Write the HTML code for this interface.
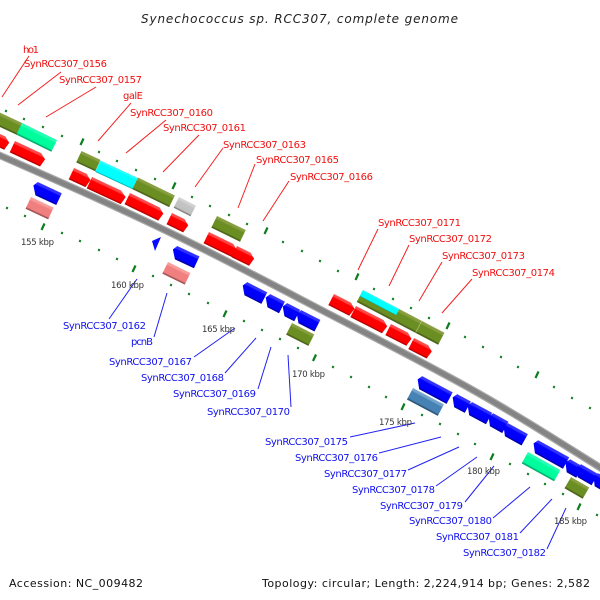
<!DOCTYPE html>
<html><head><meta charset="utf-8"><style>
html,body{margin:0;padding:0;background:#fff}
svg{display:block}
text{font-family:"DejaVu Sans",sans-serif}
.r{fill:#f01010;font-size:10px}
.b{fill:#1010f0;font-size:10px}
.k{fill:#333;font-size:8.5px}
</style></head><body>
<svg width="600" height="600" viewBox="0 0 600 600" xmlns="http://www.w3.org/2000/svg">
<defs>
<linearGradient id="gr" x1="0" y1="0" x2="0" y2="1"><stop offset="0" stop-color="#ff5050"/><stop offset=".2" stop-color="#ff4040"/><stop offset=".27" stop-color="#ff0000"/><stop offset=".86" stop-color="#fa0000"/><stop offset=".92" stop-color="#c00000"/><stop offset="1" stop-color="#b00000"/></linearGradient>
<linearGradient id="gb" x1="0" y1="0" x2="0" y2="1"><stop offset="0" stop-color="#3838ff"/><stop offset=".2" stop-color="#2c2cff"/><stop offset=".27" stop-color="#0000ff"/><stop offset=".86" stop-color="#0000f5"/><stop offset=".92" stop-color="#0000b4"/><stop offset="1" stop-color="#0000a8"/></linearGradient>
<linearGradient id="go" x1="0" y1="0" x2="0" y2="1"><stop offset="0" stop-color="#8aa244"/><stop offset=".2" stop-color="#849c3c"/><stop offset=".27" stop-color="#6b8e23"/><stop offset=".84" stop-color="#6b8e23"/><stop offset=".9" stop-color="#4f681a"/><stop offset="1" stop-color="#4a6218"/></linearGradient>
<linearGradient id="gc" x1="0" y1="0" x2="0" y2="1"><stop offset="0" stop-color="#30ffff"/><stop offset=".15" stop-color="#20ffff"/><stop offset=".22" stop-color="#00ffff"/><stop offset=".9" stop-color="#00ffff"/><stop offset=".94" stop-color="#00c0c0"/><stop offset="1" stop-color="#00b4b4"/></linearGradient>
<linearGradient id="gg" x1="0" y1="0" x2="0" y2="1"><stop offset="0" stop-color="#28ffb4"/><stop offset=".2" stop-color="#22ffb0"/><stop offset=".27" stop-color="#00ff9f"/><stop offset=".84" stop-color="#00fa9a"/><stop offset=".9" stop-color="#00b872"/><stop offset="1" stop-color="#00ac6c"/></linearGradient>
<linearGradient id="gy" x1="0" y1="0" x2="0" y2="1"><stop offset="0" stop-color="#d4d4d4"/><stop offset=".2" stop-color="#d0d0d0"/><stop offset=".27" stop-color="#c4c4c4"/><stop offset=".84" stop-color="#c0c0c0"/><stop offset=".9" stop-color="#8c8c8c"/><stop offset="1" stop-color="#848484"/></linearGradient>
<linearGradient id="gp" x1="0" y1="0" x2="0" y2="1"><stop offset="0" stop-color="#f8a0a0"/><stop offset=".2" stop-color="#f89898"/><stop offset=".27" stop-color="#f08080"/><stop offset=".84" stop-color="#f08080"/><stop offset=".9" stop-color="#a85858"/><stop offset="1" stop-color="#a05454"/></linearGradient>
<linearGradient id="gs" x1="0" y1="0" x2="0" y2="1"><stop offset="0" stop-color="#78a8ce"/><stop offset=".2" stop-color="#70a0ca"/><stop offset=".27" stop-color="#4682b4"/><stop offset=".84" stop-color="#4682b4"/><stop offset=".9" stop-color="#30597c"/><stop offset="1" stop-color="#2c5474"/></linearGradient>
</defs>

<text x="141" y="23" font-size="12" font-style="italic" fill="#222" textLength="317" lengthAdjust="spacing">Synechococcus sp. RCC307, complete genome</text>

<!-- backbone -->
<path transform="translate(0,.5)" d="M-10,150.6 L0,155 C60,181.4 120,207.6 180,237 C230,261.5 280,288 330,314 C377,338.3 423,361.7 470,388 C513,412 557,440 600,467 L612,475" fill="none" stroke="#a8a8a8" stroke-width="7.4"/>
<path transform="translate(0,.5)" d="M-10,150.6 L0,155 C60,181.4 120,207.6 180,237 C230,261.5 280,288 330,314 C377,338.3 423,361.7 470,388 C513,412 557,440 600,467 L612,475" fill="none" stroke="#848484" stroke-width="5"/>

<!-- small ticks -->
<path fill="none" stroke="#0a7d1e" stroke-width="2" d="
M5.5,112l1,-2M23.5,120l1,-2M42.5,128l1,-2M61.5,137l1,-2M98.5,153l1,-2M116.5,162l1,-2M135.5,171l1,-2M154.5,180l1,-2M191.5,198l1,-2M209.5,207l1,-2M228.5,216l1,-2M246.5,225l1,-2M282.5,243l1,-2M301.5,252l1,-2M319.5,262l1,-2M337.5,272l1,-2M373.5,290l1,-2M392.5,300l1,-2M410.5,309l1,-2M428.5,319l1,-2M464.5,338l1,-2M482.5,348l1,-2M500.5,358l1,-2M517.5,368l1,-2M553.5,388l1,-2M571.5,399l1,-2M589.5,409l1,-2
M6.5,209l1,-2M24.5,217l1,-2M61.5,234l1,-2M79.5,242l1,-2M98.5,251l1,-2M116.5,260l1,-2M152.5,277l1,-2M170.5,286l1,-2M188.5,295l1,-2M207.5,304l1,-2M243.5,322l1,-2M261.5,331l1,-2M279.5,340l1,-2M297.5,349l1,-2M332.5,368l1,-2M350.5,378l1,-2M368.5,388l1,-2M385.5,398l1,-2M421.5,416l1,-2M439.5,425l1,-2M457.5,435l1,-2M474.5,445l1,-2M509.5,465l1,-2M527.5,475l1,-2M544.5,485l1,-2M562.5,495l1,-2M596.5,516l1,-2"/>
<!-- large ticks -->
<path fill="none" stroke="#0a7d1e" stroke-width="2.2" d="
M80.5,145l3,-6.5M172.5,189l3,-6.5M264.5,234l3,-6.5M355.5,280l3,-6.5M446.5,329l3,-6.5M535.5,378l3,-6.5
M41.5,230l3,-6.5M132.5,272l3,-6.5M223.5,317l3,-6.5M313,361l3,-6.5M401.5,410l3,-6.5M490.5,460l3,-6.5M577.5,510l3,-6.5"/>

<!-- upper strand features -->
<g transform="translate(-10,108) rotate(25)"><rect width="36" height="13" fill="url(#go)"/></g>
<g transform="translate(22,123) rotate(26)"><rect width="39" height="13" fill="url(#gg)"/></g>
<g transform="translate(81.5,151) rotate(25)"><rect width="21" height="12.5" fill="url(#go)"/></g>
<g transform="translate(100.5,160.5) rotate(25)"><rect width="41" height="12.5" fill="url(#gc)"/></g>
<g transform="translate(138,177.5) rotate(26)"><rect width="41" height="13" fill="url(#go)"/></g>
<g transform="translate(179,197) rotate(27)"><rect width="19" height="12" fill="url(#gy)"/></g>
<g transform="translate(217,216) rotate(26)"><rect width="32" height="13" fill="url(#go)"/></g>
<g transform="translate(363,290) rotate(27.7)"><rect width="92" height="13.5" fill="url(#go)"/><rect y="0" width="41" height="7" fill="url(#gc)"/><rect x="66" y="0" width=".8" height="13" fill="#a8c070"/></g>

<!-- red genes -->
<g fill="url(#gr)">
<g transform="translate(0,134) rotate(25)"><polygon points="-12,0 6,0 12,4 10.5,12.5 -12,12.5"/></g>
<g transform="translate(15,141) rotate(25)"><polygon points="0,0 29,0 35,4 33.5,12.5 0,12.5"/></g>
<g transform="translate(74,168) rotate(25)"><polygon points="0,0 14,0 20,4 18.5,12.5 0,12.5"/></g>
<g transform="translate(92,177) rotate(25)"><polygon points="0,0 32,0 39,4 37.5,12.5 0,12.5"/></g>
<g transform="translate(130,193) rotate(26)"><polygon points="0,0 33,0 39,4 37.5,12.5 0,12.5"/></g>
<g transform="translate(172,213) rotate(26)"><polygon points="0,0 14,0 20,4 18.5,12.5 0,12.5"/></g>
<g transform="translate(209,232) rotate(26)"><polygon points="0,0 27,0 33,4 31.5,12.5 0,12.5"/></g>
<g transform="translate(237,246) rotate(26)"><polygon points="0,0 15,0 21,4 19.5,12.5 0,12.5"/></g>
<g transform="translate(334,294) rotate(27)"><polygon points="0,0 19,0 25,4 23.5,12.5 0,12.5"/></g>
<g transform="translate(356,306) rotate(27)"><polygon points="0,0 31,0 37,4 35.5,12.5 0,12.5"/></g>
<g transform="translate(391,324) rotate(27)"><polygon points="0,0 19,0 25,4 23.5,12.5 0,12.5"/></g>
<g transform="translate(414,338) rotate(27)"><polygon points="0,0 16,0 22,4 20.5,12.5 0,12.5"/></g>
</g>

<!-- lower strand features -->
<g transform="translate(31,197) rotate(25)"><rect width="25" height="13" fill="url(#gp)"/></g>
<g transform="translate(168,262) rotate(26)"><rect width="25" height="13" fill="url(#gp)"/></g>
<g transform="translate(292,323) rotate(27)"><rect width="25" height="13" fill="url(#go)"/></g>
<g transform="translate(413,388) rotate(28)"><rect width="35" height="13" fill="url(#gs)"/></g>
<g transform="translate(528,452) rotate(29)"><rect width="37" height="13" fill="url(#gg)"/></g>
<g transform="translate(571,477) rotate(30)"><rect width="21" height="13" fill="url(#go)"/></g>

<!-- blue genes -->
<polygon points="161,237 152,241 155,251" fill="#0a0aff"/>
<g fill="url(#gb)">
<g transform="translate(35.5,181) rotate(25)"><polygon points="2.5,0 29,0 29,13 6,13 0,5"/></g>
<g transform="translate(175,245) rotate(25)"><polygon points="2.5,0 27,0 27,13 6,13 0,5"/></g>
<g transform="translate(245,281) rotate(27)"><polygon points="2.5,0 25,0 25,13 6,13 0,5"/></g>
<g transform="translate(268,293) rotate(27)"><polygon points="2.5,0 19,0 19,13 6,13 0,5"/></g>
<g transform="translate(285,302) rotate(27)"><polygon points="2.5,0 17,0 17,13 6,13 0,5"/></g>
<g transform="translate(299,309) rotate(27)"><polygon points="2.5,0 24,0 24,13 6,13 0,5"/></g>
<g transform="translate(420,375) rotate(28)"><polygon points="2.5,0 37,0 37,13 6,13 0,5"/></g>
<g transform="translate(455,393) rotate(28)"><polygon points="2.5,0 18,0 18,13 6,13 0,5"/></g>
<g transform="translate(470,401) rotate(28)"><polygon points="2.5,0 25,0 25,13 6,13 0,5"/></g>
<g transform="translate(491,412) rotate(29)"><polygon points="2.5,0 20,0 20,13 6,13 0,5"/></g>
<g transform="translate(506,422) rotate(29)"><polygon points="2.5,0 25,0 25,13 6,13 0,5"/></g>
<g transform="translate(536,439) rotate(29)"><polygon points="2.5,0 38,0 38,13 6,13 0,5"/></g>
<g transform="translate(568,458) rotate(30)"><polygon points="2.5,0 17,0 17,13 6,13 0,5"/></g>
<g transform="translate(579,463) rotate(30)"><polygon points="2.5,0 22,0 22,13 6,13 0,5"/></g>
<g transform="translate(596,472) rotate(30)"><polygon points="2.5,0 22,0 22,13 6,13 0,5"/></g>
</g>

<!-- red connectors -->
<g stroke="#f42020" stroke-width="1" fill="none">
<line x1="29" y1="56" x2="2" y2="97"/>
<line x1="61" y1="72" x2="18" y2="105"/>
<line x1="96" y1="87" x2="46" y2="117"/>
<line x1="131" y1="103" x2="98" y2="141"/>
<line x1="166" y1="120" x2="126" y2="153"/>
<line x1="199" y1="135" x2="163" y2="172"/>
<line x1="223" y1="148" x2="195" y2="187"/>
<line x1="255" y1="164" x2="238" y2="208"/>
<line x1="289" y1="181" x2="263" y2="221"/>
<line x1="378" y1="229" x2="358" y2="270"/>
<line x1="409" y1="245" x2="389" y2="286"/>
<line x1="442" y1="262" x2="419" y2="301"/>
<line x1="472" y1="279" x2="442" y2="313"/>
</g>

<!-- blue connectors -->
<g stroke="#2020f4" stroke-width="1" fill="none">
<line x1="137" y1="279" x2="109" y2="319"/>
<line x1="167" y1="293" x2="154" y2="337"/>
<line x1="235" y1="328" x2="194" y2="357"/>
<line x1="256" y1="338" x2="225" y2="373"/>
<line x1="271" y1="347" x2="258" y2="389"/>
<line x1="288" y1="355" x2="291" y2="407"/>
<line x1="415" y1="423" x2="350" y2="437"/>
<line x1="441" y1="437" x2="379" y2="453"/>
<line x1="459" y1="447" x2="408" y2="470"/>
<line x1="477" y1="457" x2="436" y2="486"/>
<line x1="494" y1="466" x2="465" y2="502"/>
<line x1="530" y1="487" x2="493" y2="518"/>
<line x1="552" y1="499" x2="520" y2="533"/>
<line x1="566" y1="508" x2="547" y2="549"/>
</g>

<!-- red labels -->
<text class="r" x="23" y="53" textLength="16">ho1</text>
<text class="r" x="24" y="67" textLength="83">SynRCC307_0156</text>
<text class="r" x="59" y="83" textLength="83">SynRCC307_0157</text>
<text class="r" x="123" y="99" textLength="20">galE</text>
<text class="r" x="130" y="116" textLength="83">SynRCC307_0160</text>
<text class="r" x="163" y="131" textLength="83">SynRCC307_0161</text>
<text class="r" x="223" y="148" textLength="83">SynRCC307_0163</text>
<text class="r" x="256" y="163" textLength="83">SynRCC307_0165</text>
<text class="r" x="290" y="180" textLength="83">SynRCC307_0166</text>
<text class="r" x="378" y="226" textLength="83">SynRCC307_0171</text>
<text class="r" x="409" y="242" textLength="83">SynRCC307_0172</text>
<text class="r" x="442" y="259" textLength="83">SynRCC307_0173</text>
<text class="r" x="472" y="276" textLength="83">SynRCC307_0174</text>

<!-- blue labels -->
<text class="b" x="63" y="329" textLength="83">SynRCC307_0162</text>
<text class="b" x="131" y="345" textLength="22">pcnB</text>
<text class="b" x="109" y="365" textLength="83">SynRCC307_0167</text>
<text class="b" x="141" y="381" textLength="83">SynRCC307_0168</text>
<text class="b" x="173" y="397" textLength="83">SynRCC307_0169</text>
<text class="b" x="207" y="415" textLength="83">SynRCC307_0170</text>
<text class="b" x="265" y="445" textLength="83">SynRCC307_0175</text>
<text class="b" x="295" y="461" textLength="83">SynRCC307_0176</text>
<text class="b" x="324" y="477" textLength="83">SynRCC307_0177</text>
<text class="b" x="352" y="493" textLength="83">SynRCC307_0178</text>
<text class="b" x="380" y="509" textLength="83">SynRCC307_0179</text>
<text class="b" x="409" y="524" textLength="83">SynRCC307_0180</text>
<text class="b" x="436" y="540" textLength="83">SynRCC307_0181</text>
<text class="b" x="463" y="556" textLength="83">SynRCC307_0182</text>

<!-- kbp labels -->
<text class="k" x="21" y="245" textLength="33">155 kbp</text>
<text class="k" x="111" y="288" textLength="33">160 kbp</text>
<text class="k" x="202" y="332" textLength="33">165 kbp</text>
<text class="k" x="292" y="377" textLength="33">170 kbp</text>
<text class="k" x="379" y="425" textLength="33">175 kbp</text>
<text class="k" x="467" y="474" textLength="33">180 kbp</text>
<text class="k" x="554" y="524" textLength="33">185 kbp</text>

<!-- footer -->
<text x="9" y="587" font-size="11" fill="#111" textLength="134">Accession: NC_009482</text>
<text x="262" y="587" font-size="11" fill="#111" textLength="328">Topology: circular; Length: 2,224,914 bp; Genes: 2,582</text>
</svg>
</body></html>
